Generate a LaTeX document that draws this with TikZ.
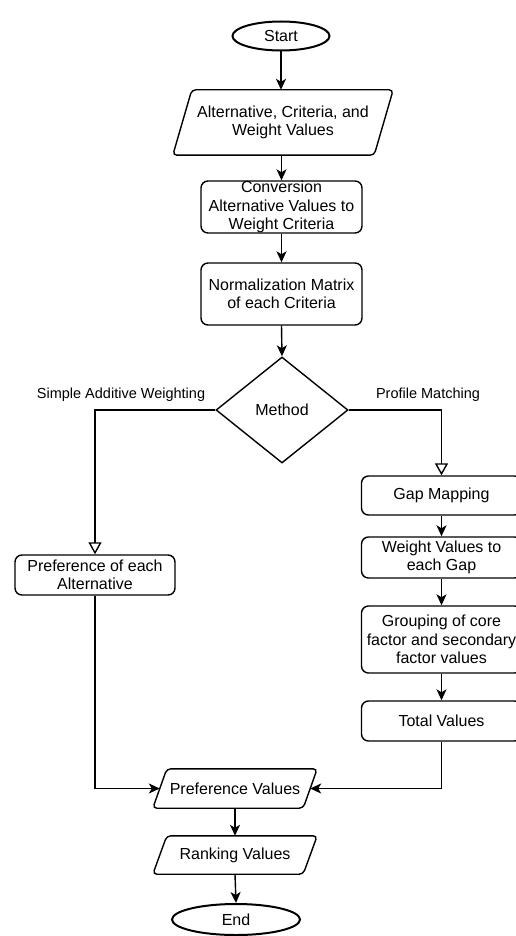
\documentclass[tikz,border=0pt]{standalone}
\usepackage{fontspec}
\setmainfont{Liberation Sans}
\usetikzlibrary{shapes.geometric,arrows.meta,calc}
\begin{document}
\begin{tikzpicture}[x=1pt,y=-1pt,
  every node/.style={font=\fontsize{16}{18.5}\selectfont, align=center, inner sep=0pt},
  box/.style={draw, rounded corners=7pt, line width=1.4pt},
  io/.style={draw=none},
  ioline/.style={draw, rounded corners=4pt, line width=1.4pt},
  term/.style={draw, ellipse, line width=2pt},
  dec/.style={draw, diamond, line width=1.4pt, minimum width=132pt, minimum height=106pt},
  lbl/.style={font=\fontsize{14.5}{17}\selectfont},
  arr/.style={line width=1.4pt, -{Stealth[length=11pt,width=10pt,inset=3pt]}},
  openarr/.style={line width=1.4pt, -{Triangle[open,length=12pt,width=13pt,fill=white]}}
]
\useasboundingbox[fill=white] (0,0) rectangle (515,936);

% main column
\node[term, minimum width=97pt, minimum height=29pt] (start) at (281,36) {Start};
\node[io, minimum width=201pt, minimum height=65pt] (in) at (283,122.5) {Alternative, Criteria, and\\Weight Values};
\draw[ioline] ([xshift=-9.5pt]in.south west) -- ([xshift=9.5pt]in.north west) -- ([xshift=9.5pt]in.north east) -- ([xshift=-9.5pt]in.south east) -- cycle;
\node[box, minimum width=161pt, minimum height=52pt] (conv) at (281.5,207) {Conversion\\Alternative Values to\\Weight Criteria};
\node[box, minimum width=161pt, minimum height=62pt] (norm) at (281.5,294) {Normalization Matrix\\of each Criteria};
\node[dec] (dia) at (282,410) {Method};

\node[lbl] (lsaw) at (121,395) {Simple Additive Weighting};
\node[lbl] (lpm) at (428,395) {Profile Matching};

% left branch
\node[box, minimum width=160pt, minimum height=40pt] (pref) at (95,575) {Preference of each\\Alternative};

% right branch
\node[box, minimum width=160pt, minimum height=39pt] (gap) at (441.5,495.5) {Gap Mapping};
\node[box, minimum width=160pt, minimum height=41pt] (wv) at (441.5,557.5) {Weight Values to\\each Gap};
\node[box, minimum width=160pt, minimum height=67pt] (grp) at (441.5,639.5) {Grouping of core\\factor and secondary\\factor values};
\node[box, minimum width=160pt, minimum height=40pt] (tot) at (441.5,721) {Total Values};

% bottom
\node[io, minimum width=150pt, minimum height=39pt] (pv) at (235,788.5) {Preference Values};
\draw[ioline] ([xshift=-7pt]pv.south west) -- ([xshift=7pt]pv.north west) -- ([xshift=7pt]pv.north east) -- ([xshift=-7pt]pv.south east) -- cycle;
\node[io, minimum width=150pt, minimum height=38pt] (rank) at (235,855) {Ranking Values};
\draw[ioline] ([xshift=-7pt]rank.south west) -- ([xshift=7pt]rank.north west) -- ([xshift=7pt]rank.north east) -- ([xshift=-7pt]rank.south east) -- cycle;
\node[term, minimum width=128pt, minimum height=31pt] (end) at (236,919.5) {End};

% connectors
\draw[arr] (start.south) -- (start.south |- in.north);
\draw[arr] (in.south -| conv.north) -- (conv.north);
\draw[arr] (conv.south) -- (norm.north);
\draw[arr] (norm.south) -- (dia.north);
\draw[openarr] (dia.west) -| (pref.north);
\draw[openarr] (dia.east) -| (gap.north);
\draw[arr] (gap.south) -- (wv.north);
\draw[arr] (wv.south) -- (grp.north);
\draw[arr] (grp.south) -- (tot.north);
\draw[arr] (tot.south) |- (pv.east);
\draw[arr] (pref.south) |- (pv.west);
\draw[arr] (pv.south) -- (rank.north);
\draw[arr] (rank.south) -- (end.north);
\end{tikzpicture}
\end{document}
